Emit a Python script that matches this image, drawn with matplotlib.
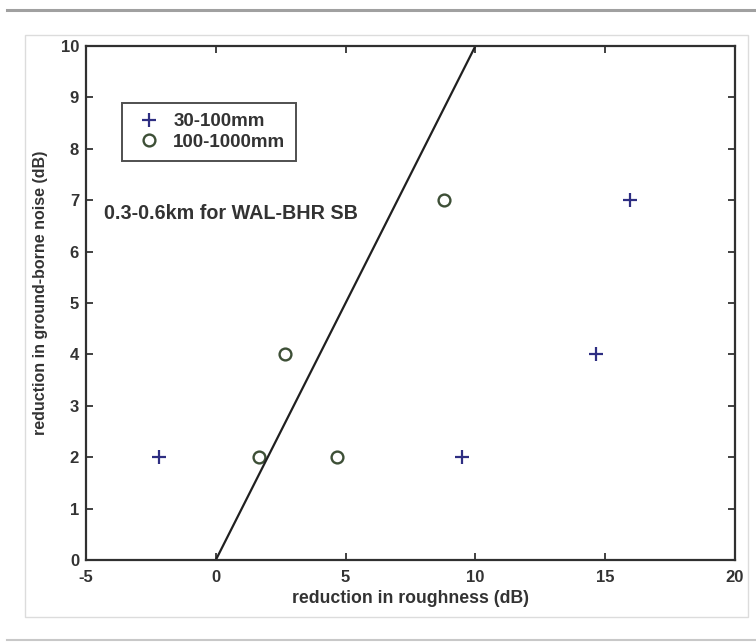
import matplotlib
matplotlib.use("Agg")
import matplotlib.pyplot as plt
from matplotlib.patches import Rectangle
from matplotlib.lines import Line2D

# data
fine_x = [-2.2, 9.5, 14.65, 15.95]      # 30-100mm
fine_y = [2, 2, 4, 7]
coarse_x = [1.65, 4.65, 2.65, 8.8]      # 100-1000mm
coarse_y = [2, 2, 4, 7]
trend_x = [0, 10]
trend_y = [0, 10]

x_ticks = [-5, 0, 5, 10, 15, 20]
y_ticks = list(range(0, 11))

plt.rcParams["font.family"] = ["Liberation Sans", "DejaVu Sans"]
plt.rcParams["font.weight"] = "bold"
plt.rcParams["axes.labelweight"] = "bold"
plt.rcParams["axes.unicode_minus"] = False

W, H = 756, 642
fig = plt.figure(figsize=(W / 100, H / 100), dpi=100)

# page decorations: rules above/below and a light panel frame
fig.add_artist(Line2D([7 / W, 1], [1 - 10 / H, 1 - 10 / H], color="#a0a0a0", lw=2.2))
fig.add_artist(Line2D([7 / W, 1], [1 - 640 / H, 1 - 640 / H], color="#c8c8c8", lw=1.5))
fig.add_artist(Rectangle((25 / W, 1 - 617 / H), (748 - 25) / W, (617 - 35) / H,
                         fill=False, ec="#dcdcdc", lw=1))

ax = fig.add_axes([86 / W, 1 - 560 / H, (735 - 86) / W, (560 - 46) / H])

ax.plot(fine_x, fine_y, "+", color="#2e2e82", ms=10, mew=1.6, label="30-100mm")
ax.plot(coarse_x, coarse_y, "o", mfc="none", mec="#3d4f36", ms=8.5, mew=1.7,
        label="100-1000mm")
ax.plot(trend_x, trend_y, color="#202020", lw=1.6)

ax.set_xlim(-5, 20)
ax.set_ylim(0, 10)
ax.set_xticks(x_ticks)
ax.set_yticks(y_ticks)
ax.tick_params(direction="in", top=True, right=True, length=5, width=1.3,
               labelsize=12, colors="#333333")
ax.tick_params(axis="x", pad=7)
ax.tick_params(axis="y", pad=5)
for s in ax.spines.values():
    s.set_linewidth(1.6)
    s.set_color("#303030")

ax.set_xlabel("reduction in roughness (dB)", fontsize=12.7, color="#333333", labelpad=4)
ax.set_ylabel("reduction in ground-borne noise (dB)", fontsize=11.5, color="#333333")
ax.yaxis.set_label_coords(-0.058, 0.52)

ax.text(-4.3, 6.74, "0.3-0.6km for WAL-BHR SB", fontsize=14.2, va="center",
        color="#333333")

leg = ax.legend(loc="upper left", bbox_to_anchor=(0.055, 0.889), fontsize=13.5,
                frameon=True, fancybox=False, borderpad=0.55, handletextpad=0.4,
                labelspacing=0.18, handlelength=1.8, borderaxespad=0)
leg.get_frame().set_edgecolor("#222222")
leg.get_frame().set_linewidth(1.4)
for t in leg.get_texts():
    t.set_color("#333333")

fig.savefig("out.png", dpi=100)
